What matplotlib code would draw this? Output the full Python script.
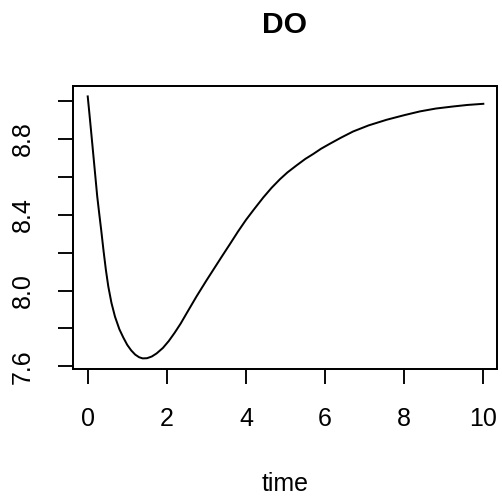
import matplotlib
matplotlib.use("Agg")
import matplotlib.pyplot as plt

# Data
time = [0.0, 0.04, 0.08, 0.12, 0.16, 0.20, 0.24, 0.29, 0.34, 0.40, 0.46, 0.52,
        0.60, 0.69, 0.80, 0.90, 1.00, 1.10, 1.20, 1.30, 1.39, 1.50, 1.62, 1.74,
        1.90, 2.05, 2.20, 2.35, 2.50, 2.75, 3.00, 3.20, 3.40, 3.60, 3.80, 4.00,
        4.20, 4.44, 4.65, 4.86, 5.05, 5.28, 5.50, 5.70, 5.90, 6.12, 6.40, 6.71,
        7.10, 7.56, 8.00, 8.40, 8.80, 9.24, 9.60, 10.0]
do_values = [9.025, 8.940, 8.853, 8.765, 8.676, 8.587, 8.498, 8.408, 8.321,
             8.210, 8.108, 8.022, 7.935, 7.862, 7.796, 7.752, 7.713, 7.684,
             7.662, 7.648, 7.642, 7.643, 7.652, 7.668, 7.697, 7.734, 7.778,
             7.826, 7.880, 7.969, 8.053, 8.118, 8.183, 8.247, 8.312, 8.373,
             8.428, 8.492, 8.543, 8.588, 8.624, 8.661, 8.695, 8.721, 8.749,
             8.775, 8.807, 8.840, 8.872, 8.902, 8.926, 8.946, 8.961, 8.972,
             8.980, 8.986]
x_ticks = [0, 2, 4, 6, 8, 10]
y_ticks = [7.6, 7.8, 8.0, 8.2, 8.4, 8.6, 8.8, 9.0]
y_tick_labels = ["7.6", "", "8.0", "", "8.4", "", "8.8", ""]
title = "DO"
xlabel = "time"

plt.rcParams['font.family'] = ['Liberation Sans', 'DejaVu Sans']

W, H, DPI = 502, 497, 150
fig = plt.figure(figsize=(W / DPI, H / DPI), dpi=DPI)
left, right, top, bottom = 73, 497, 86, 369
ax = fig.add_axes([left / W, (H - bottom) / H, (right - left) / W, (bottom - top) / H])

ax.plot(time, do_values, color='black', linewidth=0.95, solid_joinstyle='round')
ax.set_xlim(-0.372, 10.346)
ax.set_ylim(7.586, 9.080)

ax.set_xticks(x_ticks)
ax.set_xticklabels([str(v) for v in x_ticks])
ax.set_yticks(y_ticks)
ax.set_yticklabels(y_tick_labels, rotation=90, va='center')

ax.tick_params(axis='both', direction='out', length=7.2, width=0.9,
               labelsize=12, colors='black')
ax.tick_params(axis='x', pad=11)
ax.tick_params(axis='y', pad=11)
for s in ax.spines.values():
    s.set_linewidth(0.95)
    s.set_color('black')

cx = (left + right) / 2 / W
fig.text(cx, (H - 491) / H, xlabel, ha='center', va='baseline', fontsize=12)
fig.text(cx, (H - 33.3) / H, title, ha='center', va='baseline', fontsize=14.4,
         fontweight='bold')

fig.savefig("out.png", dpi=DPI)
